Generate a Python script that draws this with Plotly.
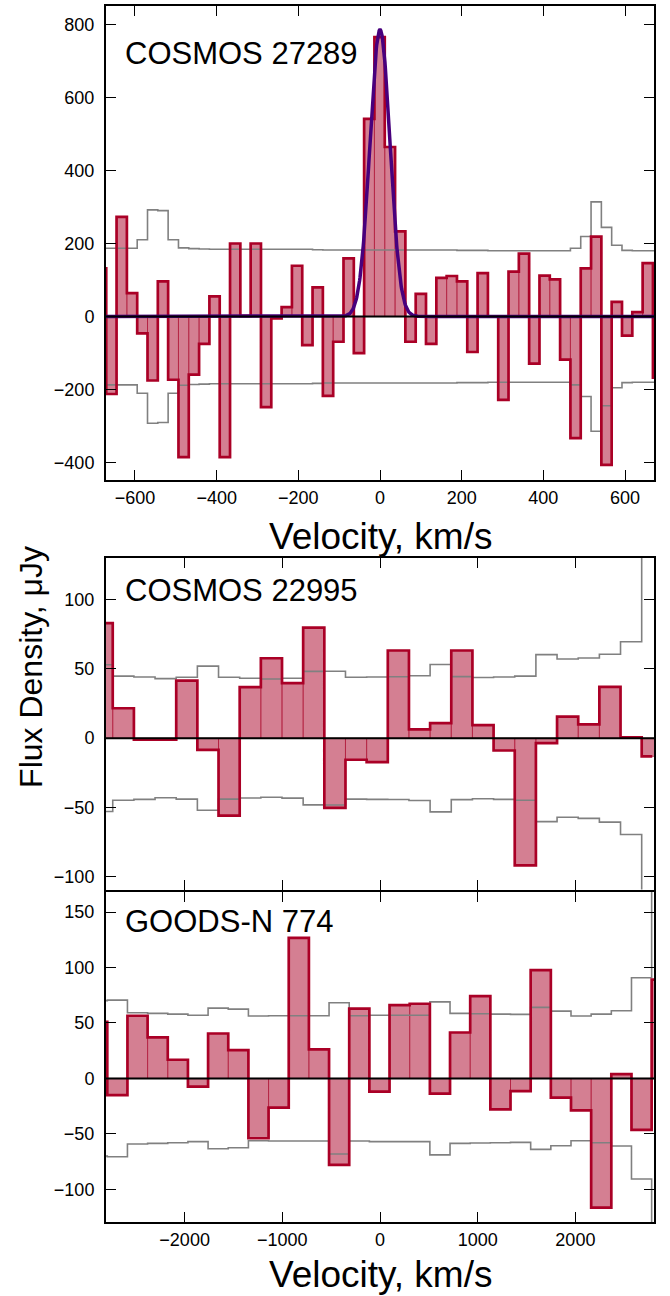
import plotly.graph_objects as go
import numpy as np

# ---------------- data ----------------
# COSMOS 27289 (channel width ~25.3 km/s)
vel_27289 = [-683.0, -657.8, -632.5, -607.2, -582.0, -556.7, -531.5, -506.2, -480.9, -455.7,
             -430.4, -405.2, -379.9, -354.6, -329.4, -304.1, -278.9, -253.6, -228.3, -203.1,
             -177.8, -152.6, -127.3, -102.0, -76.8, -51.5, -26.3, -1.0, 24.3, 49.5,
             74.8, 100.0, 125.3, 150.6, 175.8, 201.1, 226.3, 251.6, 276.9, 302.1,
             327.4, 352.6, 377.9, 403.2, 428.4, 453.7, 478.9, 504.2, 529.5, 554.7,
             580.0, 605.2, 630.5, 655.8, 681.0]
flux_27289 = [132, -212, 273, 64, -46, -175, 96, -173, -385, -159,
              -75, 55, -385, 200, 2, 200, -248, -5, 26, 139,
              -78, 80, -217, -69, 159, -100, 541, 765, 464, 233,
              -69, 62, -75, 106, 111, 96, -97, 119, 0, -228,
              123, 172, -129, 112, 102, -118, -333, 132, 219, -406,
              40, -52, 12, 146, -167]
rms_27289 = [187, 187, 187, 187, 210, 292, 290, 210, 188, 186,
             185, 184, 184, 184, 184, 184, 184, 184, 184, 184,
             184, 183, 182, 182, 182, 182, 182, 182, 182, 182,
             182, 182, 182, 182, 182, 181, 181, 181, 180, 180,
             180, 180, 180, 180, 180, 180, 187, 219, 314, 244,
             195, 181, 180, 180, 180]
chan_27289 = 25.26
fit_amp, fit_center, fit_sigma = 785.0, 0.0, 24.5

# COSMOS 22995 (channel width ~216.6 km/s)
vel_22995 = [-2844.3, -2627.7, -2411.1, -2194.5, -1977.9, -1761.3, -1544.7, -1328.1, -1111.5,
             -894.9, -678.3, -461.7, -245.1, -28.5, 188.1, 404.7, 621.3, 837.9, 1054.5,
             1271.1, 1487.7, 1704.3, 1920.9, 2137.5, 2354.1, 2570.7, 2787.3]
flux_22995 = [83, 21.6, -1, -1, 41.6, -8.4, -56, 36.8, 57.7,
              39.7, 79.8, -50.3, -15.6, -17.3, 63.3, 6.3, 10.8, 63.3, 9.4,
              -8.9, -91.9, -3.6, 15.6, 9.9, 37, 0.5, -13.2]
rms_22995 = [53, 44.8, 44.2, 43, 44, 52, 44, 43.2, 42.7,
             43.3, 48.2, 48.3, 44, 44.2, 44.3, 45, 53.2, 44.4, 43.8,
             44.2, 44.8, 60.3, 57.1, 57.9, 60.6, 69.6, 160]
chan_22995 = 216.6

# GOODS-N 774 (channel width ~206.4 km/s)
vel_774 = [-2895.1, -2688.7, -2482.3, -2275.9, -2069.5, -1863.1, -1656.7, -1450.3, -1243.9, -1037.5,
           -831.1, -624.7, -418.3, -211.9, -5.5, 200.9, 407.3, 613.7, 820.1, 1026.5,
           1232.9, 1439.3, 1645.7, 1852.1, 2058.5, 2264.9, 2471.3, 2677.7, 2884.1]
flux_774 = [51, -15, 56.5, 37, 16.8, -7.5, 40.5, 25.5, -54, -26.4,
            126.7, 26.1, -78, 63, -12, 66, 67.3, -13.8, 41.4, 74.2,
            -27.9, -11.4, 97.6, -17.4, -28.8, -116.5, 3.9, -46.5, 89]
rms_774 = [70, 70.6, 59.2, 58.6, 58, 57, 63.4, 62.5, 56.2, 56.5,
           56.5, 56.5, 68.2, 56.5, 57, 57, 57, 69, 58.6, 58.3,
           58, 57.7, 64, 60.7, 56.2, 58, 61, 90.7, 200]
chan_774 = 206.4

names = ["COSMOS 27289", "COSMOS 22995", "GOODS-N 774"]
x_ticks_top = [-600, -400, -200, 0, 200, 400, 600]
y_ticks_top = [-400, -200, 0, 200, 400, 600, 800]
x_ticks_wide = [-2000, -1000, 0, 1000, 2000]
y_ticks_mid = [-100, -50, 0, 50, 100]
y_ticks_bot = [-100, -50, 0, 50, 100, 150]

# ---------------- styles ----------------
RED = "rgb(170,0,38)"
FILL = "rgba(170,0,38,0.5)"
GREY = "rgb(128,128,128)"
PURPLE = "rgb(72,0,125)"
FONT = "Liberation Sans, Arial, Helvetica, sans-serif"

fig = go.Figure()

panels = [
    (vel_27289, flux_27289, rms_27289, chan_27289, "x", "y"),
    (vel_22995, flux_22995, rms_22995, chan_22995, "x2", "y2"),
    (vel_774, flux_774, rms_774, chan_774, "x3", "y3"),
]

for vel, flux, rms, chan, xa, ya in panels:
    fig.add_trace(go.Bar(x=vel, y=flux, width=chan, xaxis=xa, yaxis=ya,
                         marker=dict(color=FILL, line=dict(color=FILL, width=1)),
                         hoverinfo="skip", showlegend=False))
    fig.add_trace(go.Scatter(x=vel, y=rms, mode="lines", xaxis=xa, yaxis=ya,
                             line=dict(shape="hvh", color=GREY, width=1.6),
                             hoverinfo="skip", showlegend=False))
    fig.add_trace(go.Scatter(x=vel, y=[-r for r in rms], mode="lines", xaxis=xa, yaxis=ya,
                             line=dict(shape="hvh", color=GREY, width=1.6),
                             hoverinfo="skip", showlegend=False))
    fig.add_trace(go.Scatter(x=vel, y=flux, mode="lines", xaxis=xa, yaxis=ya,
                             line=dict(shape="hvh", color=RED, width=2.7),
                             hoverinfo="skip", showlegend=False))

# zero lines (black), drawn above bars
for ya, xd in [("y", "x domain"), ("y2", "x2 domain"), ("y3", "x3 domain")]:
    fig.add_shape(type="line", xref=xd, yref=ya, x0=0, x1=1, y0=0, y1=0,
                  line=dict(color="black", width=2), layer="above")

# Gaussian fit line on the top panel
vg = np.linspace(-700, 700, 1401)
gfit = fit_amp * np.exp(-0.5 * ((vg - fit_center) / fit_sigma) ** 2)
fig.add_trace(go.Scatter(x=vg, y=gfit, mode="lines", xaxis="x", yaxis="y",
                         line=dict(color=PURPLE, width=3.5),
                         hoverinfo="skip", showlegend=False))

W, H = 670, 1296
ML, MR, MT, MB = 106, 16, 4, 74
PH = H - MT - MB
PW = W - ML - MR


def py(px):
    return 1 - (px - MT) / PH


def pxx(px):
    return (px - ML) / PW


def axis_style(standoff):
    return dict(showline=True, linecolor="black", linewidth=2, mirror="allticks",
                ticks="inside", ticklen=10, tickwidth=1.3, tickcolor="black",
                showgrid=False, zeroline=False, layer="above traces",
                tickfont=dict(family=FONT, size=18, color="black"),
                ticklabelstandoff=standoff)


fig.update_layout(
    width=W, height=H,
    margin=dict(l=ML, r=MR, t=MT, b=MB),
    paper_bgcolor="white", plot_bgcolor="white",
    showlegend=False,
    barmode="overlay",
    xaxis=dict(domain=[0, 1], anchor="y", range=[-671, 671], tickvals=x_ticks_top, **axis_style(0)),
    yaxis=dict(domain=[py(479), 1], anchor="x", range=[-448, 850], tickvals=y_ticks_top, **axis_style(6)),
    xaxis2=dict(domain=[0, 1], anchor="y2", range=[-2805, 2805], tickvals=x_ticks_wide,
                showticklabels=False, **axis_style(0)),
    yaxis2=dict(domain=[py(889), py(557)], anchor="x2", range=[-109.3, 130], tickvals=y_ticks_mid,
                **axis_style(6)),
    xaxis3=dict(domain=[0, 1], anchor="y3", range=[-2805, 2805], tickvals=x_ticks_wide, **axis_style(0)),
    yaxis3=dict(domain=[0, py(891)], anchor="x3", range=[-129.5, 168.5], tickvals=y_ticks_bot,
                **axis_style(6)),
)

ann = []
for name, ypx in zip(names, [52, 589, 921]):
    ann.append(dict(text=name, xref="paper", yref="paper", x=pxx(123), y=py(ypx),
                    xanchor="left", yanchor="middle", showarrow=False,
                    font=dict(family=FONT, size=31, color="black")))
for ypx in [535, 1275]:
    ann.append(dict(text="Velocity, km/s", xref="paper", yref="paper", x=0.5, y=py(ypx),
                    xanchor="center", yanchor="middle", showarrow=False,
                    font=dict(family=FONT, size=37, color="black")))
ann.append(dict(text="Flux Density, μJy", xref="paper", yref="paper", x=pxx(31), y=py(666),
                xanchor="center", yanchor="middle", textangle=-90, showarrow=False,
                font=dict(family=FONT, size=32, color="black")))
fig.update_layout(annotations=ann)

fig.write_html("out.html")
